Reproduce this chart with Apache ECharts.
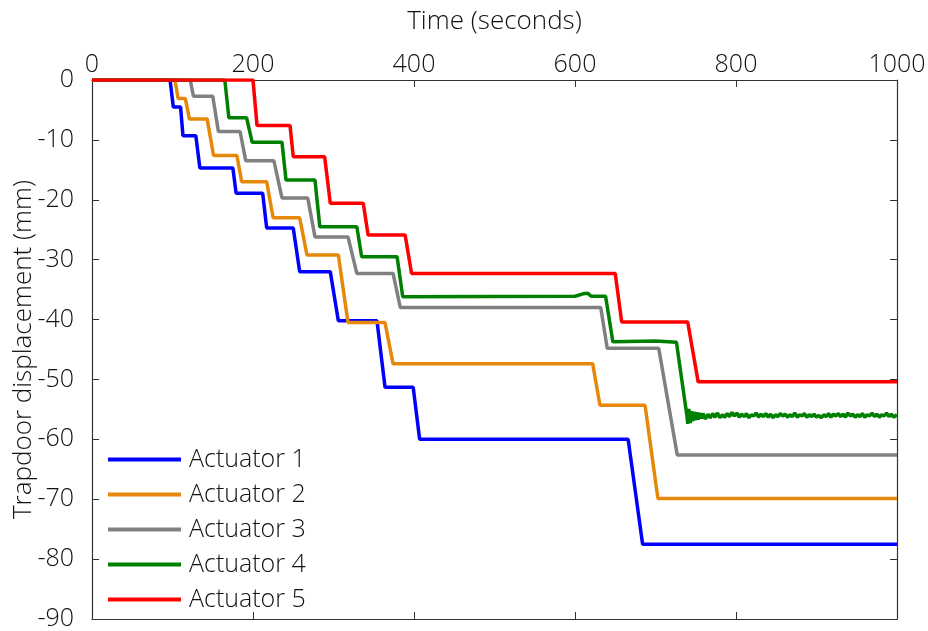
<!DOCTYPE html>
<html>
<head>
<meta charset="utf-8">
<script src="https://cdn.jsdelivr.net/npm/echarts@6/dist/echarts.min.js"></script>
<style>
  html, body { margin: 0; padding: 0; background: #fff; }
  #chart { width: 928px; height: 631px; }
</style>
</head>
<body>
<div id="chart"></div>
<script>
// [time (s), displacement (mm)]
const actuator1 = [
  [0, 0], [97, 0], [101, -4.5], [110, -4.5], [113, -9.3], [129, -9.3], [134, -14.7],
  [175, -14.7], [179, -18.9], [212, -18.9], [217, -24.7], [250, -24.7], [258, -32],
  [296, -32], [306, -40.2], [354, -40.2], [364, -51.3], [399, -51.3], [407, -60],
  [666, -60], [684, -77.5], [1000, -77.5]
]
const actuator2 = [
  [0, 0], [103, 0], [107, -3.1], [116, -3.1], [121, -6.5], [143, -6.5], [151, -12.6],
  [180, -12.6], [186, -17], [217, -17], [225, -23], [258, -23], [267, -29.2],
  [306, -29.2], [318, -40.5], [364, -40.5], [374, -47.4], [622, -47.4], [631, -54.3],
  [687, -54.3], [703, -69.9], [1000, -69.9]
]
const actuator3 = [
  [0, 0], [122, 0], [126, -2.7], [150, -2.7], [157, -8.6], [184, -8.6], [191, -13.5],
  [226, -13.5], [236, -19.7], [268, -19.7], [277, -26.2], [318, -26.2], [329, -32.3],
  [374, -32.3], [383, -38], [632, -38], [640, -44.8], [704, -44.8], [727, -62.6],
  [1000, -62.6]
]
const actuator4 = [
  [0, 0], [165, 0], [170, -6.3], [192, -6.3], [199, -10.4], [236, -10.4], [241, -16.7],
  [277, -16.7], [283, -24.5], [329, -24.5], [335, -29.5], [379, -29.5], [386, -36.2],
  [600, -36.1], [610, -35.7], [616, -35.6], [620, -36.1], [638, -36.1], [647, -43.7],
  [700, -43.6], [726, -43.8], [739, -56.0], [740, -57.4], [741.5, -54.9], [743, -57.3],
  [744.5, -55.3], [746, -57.0], [747.5, -55.4], [749, -56.8], [751, -55.5], [753, -56.7],
  [755, -55.6], [757, -56.5], [759, -55.7], [762, -56.6], [765, -55.8], [768, -56.4],
  [771, -55.7], [774, -56.3], [777, -55.6], [780, -56.4], [783, -55.9], [786, -56.3],
  [789, -55.7], [792, -56.2], [795, -55.5], [798, -56.1], [801, -55.6], [804, -56.3],
  [807, -55.8], [810, -56.2], [813, -55.7], [816, -56.4], [819, -55.9], [822, -56.1],
  [825, -55.6], [828, -56.3], [831, -55.8], [834, -56.2], [837, -55.7], [840, -56.3],
  [843, -55.8], [846, -56.4], [849, -55.9], [852, -56.2], [855, -55.7], [858, -56.1],
  [861, -55.8], [864, -56.3], [867, -55.9], [870, -56.2], [873, -55.6], [876, -56.3],
  [879, -55.9], [882, -56.1], [885, -55.7], [888, -56.3], [891, -55.9], [894, -56.2],
  [897, -55.8], [900, -56.3], [903, -56.0], [906, -56.4], [909, -55.9], [912, -56.2],
  [915, -55.7], [918, -56.3], [921, -55.8], [924, -56.1], [927, -55.7], [930, -56.2],
  [933, -55.8], [936, -56.3], [939, -55.6], [942, -56.1], [945, -55.8], [948, -56.3],
  [951, -55.9], [954, -56.2], [957, -55.7], [960, -56.3], [963, -55.9], [966, -56.1],
  [969, -55.6], [972, -56.2], [975, -55.8], [978, -56.3], [981, -55.9], [984, -56.1],
  [987, -55.6], [990, -56.2], [993, -55.8], [996, -56.3], [1000, -55.9]
]
const actuator5 = [
  [0, 0], [200, 0], [205, -7.6], [246, -7.6], [250, -12.8], [289, -12.8], [296, -20.6],
  [337, -20.6], [343, -25.9], [389, -25.9], [397, -32.3], [650, -32.3], [658, -40.4],
  [740, -40.4], [753, -50.4], [1000, -50.4]
]

const seriesNames = ['Actuator 1', 'Actuator 2', 'Actuator 3', 'Actuator 4', 'Actuator 5']
const seriesData = [actuator1, actuator2, actuator3, actuator4, actuator5]
const seriesColors = ['#0000ff', '#e6880a', '#808080', '#008000', '#ff0000']

const fontFamily = '"Open Sans", "Noto Sans", sans-serif'
const textColor = '#111'
const axisColor = '#333'

const chart = echarts.init(document.getElementById('chart'))

const boxAxis = {
  axisLine: { show: true, onZero: false, lineStyle: { color: axisColor, width: 1.2 } },
  axisTick: { show: true, inside: true, length: 7, lineStyle: { color: axisColor } },
  splitLine: { show: false }
}
const tickText = { fontFamily, fontSize: 25, fontWeight: 300, color: textColor }
const nameText = { fontFamily, fontSize: 26, fontWeight: 300, color: textColor }

chart.setOption({
  animation: false,
  grid: { left: 92, right: 31, top: 80, bottom: 12, outerBoundsMode: 'none' },
  legend: {
    orient: 'vertical',
    left: 108,
    top: 447,
    padding: 0,
    icon: 'rect',
    itemWidth: 73,
    itemHeight: 4,
    itemGap: 10,
    data: seriesNames,
    textStyle: { ...tickText, lineHeight: 24.5, padding: [0, 0, 0, 3] }
  },
  xAxis: [
    {
      ...boxAxis,
      type: 'value',
      position: 'top',
      min: 0,
      max: 1000,
      interval: 200,
      name: 'Time (seconds)',
      nameLocation: 'middle',
      nameGap: 45,
      nameMoveOverlap: false,
      nameTextStyle: nameText,
      axisLabel: { ...tickText, margin: 3, formatter: v => String(v) }
    },
    {
      ...boxAxis,
      type: 'value',
      position: 'bottom',
      min: 0,
      max: 1000,
      interval: 200,
      axisLabel: { show: false }
    }
  ],
  yAxis: [
    {
      ...boxAxis,
      type: 'value',
      position: 'left',
      min: -90,
      max: 0,
      interval: 10,
      name: 'Trapdoor displacement (mm)',
      nameLocation: 'middle',
      nameGap: 55,
      nameMoveOverlap: false,
      nameTextStyle: nameText,
      axisLabel: { ...tickText, margin: 18 }
    },
    {
      ...boxAxis,
      type: 'value',
      position: 'right',
      min: -90,
      max: 0,
      interval: 10,
      axisLabel: { show: false }
    }
  ],
  series: seriesNames.map((name, i) => ({
    name,
    type: 'line',
    xAxisIndex: 0,
    yAxisIndex: 0,
    data: seriesData[i],
    showSymbol: false,
    symbol: 'none',
    lineStyle: { color: seriesColors[i], width: 3.5 },
    itemStyle: { color: seriesColors[i] }
  }))
})
</script>
</body>
</html>
